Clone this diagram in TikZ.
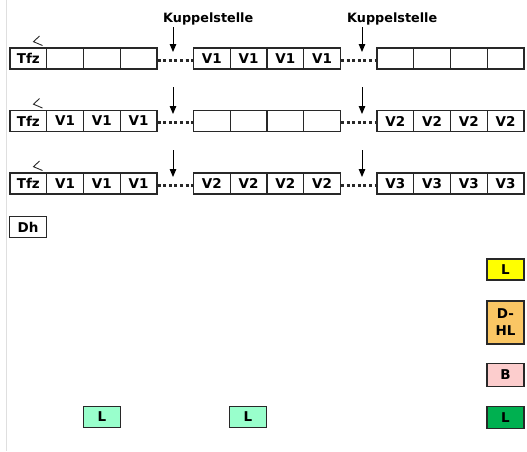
\documentclass[tikz,border=0pt]{standalone}
\usepackage{fontspec}
\setmainfont{DejaVu Sans}
\usetikzlibrary{arrows.meta}
\definecolor{boxline}{RGB}{40,40,40}
\definecolor{cyel}{RGB}{255,255,0}
\definecolor{corange}{RGB}{250,198,100}
\definecolor{cpink}{RGB}{252,205,205}
\definecolor{cgreen}{RGB}{0,176,80}
\definecolor{cmint}{RGB}{153,255,204}
\tikzset{
  cell/.style={draw=boxline, line width=1.1pt, minimum width=36.75pt, minimum height=21pt,
    inner sep=0pt, font=\bfseries\fontsize{13.5}{15}\selectfont},
  tag/.style={draw=boxline, line width=1.3pt, minimum width=37pt, minimum height=21pt,
    inner sep=0pt, font=\bfseries\fontsize{13.5}{15}\selectfont},
  kup/.style={inner sep=0pt, font=\bfseries\fontsize{12.8}{14}\selectfont},
  coup/.style={line width=3pt, dash pattern=on 3pt off 2.6pt, boxline},
  arr/.style={line width=1pt, -{Triangle[width=6.5pt,length=8pt]}},
  chev/.style={line width=0.9pt, boxline}
}
\newcommand\cellgrp[4]{%
  \foreach \t [count=\i] in {#4} {
    \node[cell] (#1\i) at ({#2+(\i-0.5)*36.75},#3) {\t};
  }%
}
\begin{document}
\begin{tikzpicture}[x=1pt,y=-1pt]
\useasboundingbox (0,0) rectangle (527,451);
\draw[gray!25, line width=0.8pt] (6,0) -- (6,451);
% Kuppelstelle labels
\node[kup, anchor=base west] (k1) at (163,22) {Kuppelstelle};
\node[kup, anchor=base west] (k2) at (347,22) {Kuppelstelle};
% rows
\cellgrp{ra}{10}{58.5}{Tfz,{},{},{}}
\cellgrp{rb}{193.5}{58.5}{V1,V1,V1,V1}
\cellgrp{rc}{377}{58.5}{{},{},{},{}}
\cellgrp{sa}{10}{121}{Tfz,V1,V1,V1}
\cellgrp{sb}{193.5}{121}{{},{},{},{}}
\cellgrp{sc}{377}{121}{V2,V2,V2,V2}
\cellgrp{ta}{10}{183.5}{Tfz,V1,V1,V1}
\cellgrp{tb}{193.5}{183.5}{V2,V2,V2,V2}
\cellgrp{tc}{377}{183.5}{V3,V3,V3,V3}
% couplings
\foreach \r in {r,s,t}{
  \draw[coup] ([yshift=-1.5pt]\r a4.east) -- ([yshift=-1.5pt]\r b1.west);
  \draw[coup] ([yshift=-1.5pt]\r b4.east) -- ([yshift=-1.5pt]\r c1.west);
}
% arrows
\coordinate (a1s) at (173,27);   \coordinate (a1e) at (173,52);
\coordinate (a2s) at (362,27);   \coordinate (a2e) at (362,52);
\coordinate (b1s) at (173,87);   \coordinate (b1e) at (173,114);
\coordinate (b2s) at (362,87);   \coordinate (b2e) at (362,114);
\coordinate (c1s) at (173,150);  \coordinate (c1e) at (173,177);
\coordinate (c2s) at (362,150);  \coordinate (c2e) at (362,177);
\foreach \a in {a1,a2,b1,b2,c1,c2}{ \draw[arr] (\a s) -- (\a e); }
% direction marks
\foreach \dy in {0,62.5,125}{
  \draw[chev] (39.5,36+\dy) -- (33.5,41.7+\dy) -- (42.5,45.5+\dy);
}
% Dh
\node[tag, fill=white] (dh) at (28,227) {Dh};
% right column
\node[tag, fill=cyel] (ly) at (505.5,269.5) {L};
\node[tag, fill=corange, minimum height=43pt, align=center, font=\bfseries\fontsize{13.5}{17}\selectfont] (dhl) at (505.5,322.5) {D-\\HL};
\node[tag, fill=cpink, minimum height=23pt] (bp) at (505.5,375) {B};
\node[tag, fill=cgreen, minimum height=22pt] (lg) at (505.5,417.5) {L};
% bottom
\node[tag, fill=cmint] (lm1) at (102,417) {L};
\node[tag, fill=cmint] (lm2) at (248,417) {L};
\end{tikzpicture}
\end{document}
